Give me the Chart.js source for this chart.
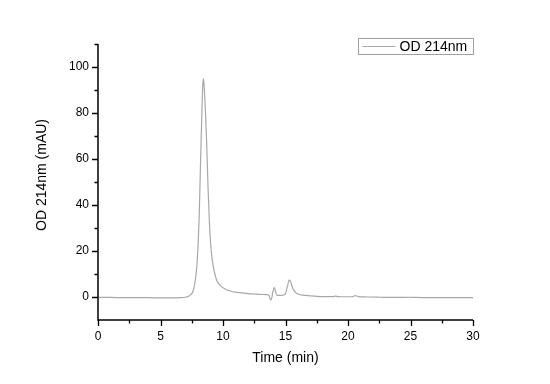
<!DOCTYPE html>
<html>
<head>
<meta charset="utf-8">
<script src="https://cdn.jsdelivr.net/npm/chart.js@4"></script>
<style>
  html, body { margin: 0; padding: 0; background: #ffffff; }
  #c { display: block; }
</style>
</head>
<body>
<canvas id="c" width="550" height="384"></canvas>
<script>
// ---- data ----
const SERIES_NAME = "OD 214nm";
const TIME = [0, 1, 2, 3, 4, 5, 6, 6.6, 7.0, 7.2, 7.4, 7.6, 7.75, 7.9, 8.0, 8.1, 8.2, 8.3, 8.38, 8.44, 8.5, 8.6, 8.7, 8.8, 8.9, 9.0, 9.1, 9.2, 9.35, 9.5, 9.7, 9.9, 10.2, 10.6, 11.0, 11.5, 12.0, 12.5, 13.0, 13.5, 13.7, 13.8, 13.9, 14.0, 14.1, 14.2, 14.3, 14.5, 14.8, 15.0, 15.15, 15.3, 15.4, 15.6, 15.8, 16.0, 16.4, 17.0, 17.5, 18.0, 18.8, 19.0, 19.2, 20.0, 20.4, 20.6, 20.8, 21.5, 22.5, 24, 25, 25.3, 27, 28.5, 30];
const OD = [-0.2, -0.2, -0.3, -0.3, -0.3, -0.4, -0.4, -0.3, -0.1, 0.2, 0.9, 2.5, 6, 13, 22, 36, 58, 78, 92, 95, 91, 80, 66, 48, 34, 24, 18, 14, 10, 7.2, 5.5, 4.4, 3.4, 2.6, 2.1, 1.8, 1.5, 1.3, 1.1, 1.0, 0.5, -1.3, -0.5, 2.5, 4.2, 2.5, 0.9, 0.7, 0.8, 1.5, 4.5, 7.3, 6.8, 3.5, 2.0, 1.3, 0.8, 0.5, 0.3, 0.2, 0.2, 0.4, 0.2, 0.1, 0.2, 0.6, 0.2, 0.0, -0.1, -0.2, -0.1, -0.2, -0.3, -0.3, -0.3];
const X_MAJOR = [0, 5, 10, 15, 20, 25, 30];
const X_MINOR = [2.5, 7.5, 12.5, 17.5, 22.5, 27.5];
const Y_MAJOR = [0, 20, 40, 60, 80, 100];
const Y_MINOR = [10, 30, 50, 70, 90, 110];
const X_TITLE = "Time (min)";
const Y_TITLE = "OD 214nm (mAU)";

const FONT = "'Liberation Sans', Arial, sans-serif";
const LINE_COLOR = "#a8a8a8";

const axesPlugin = {
  id: 'axesPlugin',
  afterDraw(chart) {
    const ctx = chart.ctx;
    const a = chart.chartArea;
    const xs = chart.scales.x, ys = chart.scales.y;
    ctx.save();
    ctx.strokeStyle = '#000';
    ctx.lineWidth = 1.5;
    ctx.beginPath();
    ctx.moveTo(a.left, a.top);
    ctx.lineTo(a.left, a.bottom);
    ctx.lineTo(a.right, a.bottom);
    ctx.stroke();
    ctx.lineWidth = 1.3;
    ctx.beginPath();
    Y_MAJOR.forEach(v => { const y = Math.round(ys.getPixelForValue(v)) + 0.5; ctx.moveTo(a.left, y); ctx.lineTo(a.left - 6, y); });
    Y_MINOR.forEach(v => { const y = Math.round(ys.getPixelForValue(v)) + 0.5; ctx.moveTo(a.left, y); ctx.lineTo(a.left - 3.5, y); });
    X_MAJOR.forEach(v => { const x = Math.round(xs.getPixelForValue(v)) + 0.5; ctx.moveTo(x, a.bottom); ctx.lineTo(x, a.bottom + 6); });
    X_MINOR.forEach(v => { const x = Math.round(xs.getPixelForValue(v)) + 0.5; ctx.moveTo(x, a.bottom); ctx.lineTo(x, a.bottom + 3.5); });
    ctx.stroke();

    // y axis title
    ctx.fillStyle = '#000';
    ctx.font = "14px " + FONT;
    ctx.save();
    ctx.translate(42, 175);
    ctx.rotate(-Math.PI / 2);
    ctx.textAlign = 'center';
    ctx.textBaseline = 'middle';
    ctx.fillText(Y_TITLE, 0, 0);
    ctx.restore();

    // legend box
    const lx = 358.5, ly = 38.5, lw = 115, lh = 16;
    ctx.strokeStyle = '#a0a0a0';
    ctx.lineWidth = 1;
    ctx.strokeRect(lx, ly, lw, lh);
    ctx.strokeStyle = LINE_COLOR;
    ctx.lineWidth = 1.2;
    ctx.beginPath();
    ctx.moveTo(lx + 4, ly + lh / 2);
    ctx.lineTo(lx + 37, ly + lh / 2);
    ctx.stroke();
    ctx.textBaseline = 'middle';
    ctx.textAlign = 'left';
    ctx.fillText(SERIES_NAME, lx + 41, ly + lh / 2 + 0.5);
    ctx.restore();
  }
};

new Chart(document.getElementById('c'), {
  type: 'line',
  data: {
    datasets: [{
      label: SERIES_NAME,
      data: TIME.map((t, i) => ({ x: t, y: OD[i] })),
      borderColor: LINE_COLOR,
      borderWidth: 1.2,
      pointRadius: 0,
      fill: false,
      cubicInterpolationMode: 'monotone'
    }]
  },
  options: {
    responsive: false,
    animation: false,
    layout: { padding: { top: 44, right: 77, left: 0, bottom: 0 } },
    plugins: { legend: { display: false }, tooltip: { enabled: false } },
    scales: {
      x: {
        type: 'linear', min: 0, max: 30,
        afterBuildTicks: s => { s.ticks = X_MAJOR.map(v => ({ value: v })); },
        afterFit: s => { s.height = 64; },
        grid: { display: false, drawTicks: false },
        border: { display: false },
        ticks: { color: '#000', font: { family: FONT, size: 12 }, padding: 9, maxRotation: 0, autoSkip: false },
        title: { display: true, text: X_TITLE, color: '#000', font: { family: FONT, size: 14 }, padding: { top: 0, bottom: 17 } }
      },
      y: {
        type: 'linear', min: -10, max: 110,
        afterBuildTicks: s => { s.ticks = Y_MAJOR.map(v => ({ value: v })); },
        afterFit: s => { s.width = 98; },
        grid: { display: false, drawTicks: false },
        border: { display: false },
        ticks: { color: '#000', font: { family: FONT, size: 12 }, padding: 9, autoSkip: false },
        title: { display: false }
      }
    }
  },
  plugins: [axesPlugin]
});
</script>
</body>
</html>
